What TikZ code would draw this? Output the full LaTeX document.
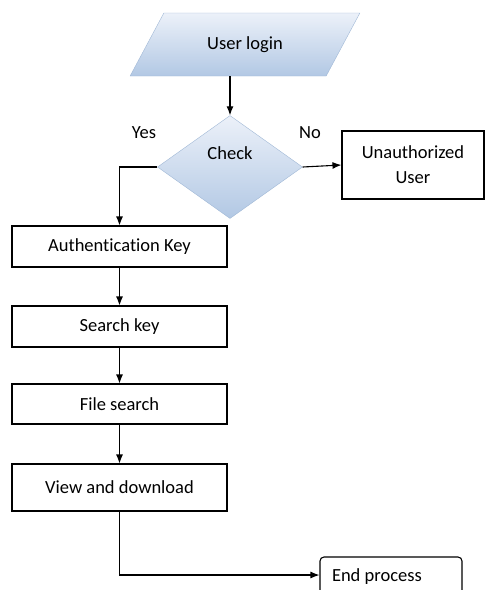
\documentclass[tikz,border=0pt]{standalone}
\usepackage{fontspec}
\setmainfont{Carlito}[Ligatures=NoCommon]
\usetikzlibrary{positioning,shapes,arrows,arrows.meta}

\definecolor{blueedge}{RGB}{160,184,214}
\definecolor{bluetop}{RGB}{236,241,249}
\definecolor{bluebot}{RGB}{178,200,228}

\begin{document}
\begin{tikzpicture}[x=1pt,y=-1pt,>={Latex[length=9pt,width=7pt]},
    every node/.style={font=\fontsize{18.5}{25}\selectfont},
    io/.style={trapezium,trapezium left angle=53,trapezium right angle=127,
        trapezium stretches=true,draw=blueedge,top color=bluetop,bottom color=bluebot,
        minimum width=230pt,minimum height=63pt},
    decision/.style={diamond,draw=blueedge,top color=bluetop,bottom color=bluebot,
        minimum width=145pt,minimum height=103pt,inner sep=0pt},
    stepbox/.style={rectangle,draw,line width=1.1pt,minimum width=215pt,minimum height=41pt},
    flow/.style={draw,line width=1.1pt,->}]
    \useasboundingbox (0,0) rectangle (485,590);
    % input and check
    \node[io] (login) at (245,44.5) {User login};
    \node[decision,label={[yshift=14pt]center:Check}] (check) at (230,167) {};
    \node (yes) at (144,133) {Yes};
    \node (no) at (310,133) {No};
    \node[stepbox,minimum width=142pt,minimum height=68pt,align=center] (unauth) at (413,165)
        {Unauthorized\\User};
    % main steps
    \node[stepbox] (auth) at (119.5,246.5) {Authentication Key};
    \node[stepbox] (search) at (119.5,326.5) {Search key};
    \node[stepbox,minimum height=40pt] (file) at (119.5,404) {File search};
    \node[stepbox,minimum height=47pt] (view) at (119.5,487.5) {View and download};
    \node[stepbox,rounded corners=4pt,minimum width=142pt,minimum height=40pt,
        text width=118pt,align=flush left] (endbox) at (391,577) {End process};
    % connectors
    \draw[flow] (login.south -| check.north) -- (check.north);
    \draw[flow] (check.east) -- (unauth.west);
    \draw[flow] (check.west) -| (auth.north);
    \draw[flow] (auth) -- (search);
    \draw[flow] (search) -- (file);
    \draw[flow] (file) -- (view);
    \draw[flow] (view.south) |- ([yshift=2pt]endbox.west);
\end{tikzpicture}
\end{document}
